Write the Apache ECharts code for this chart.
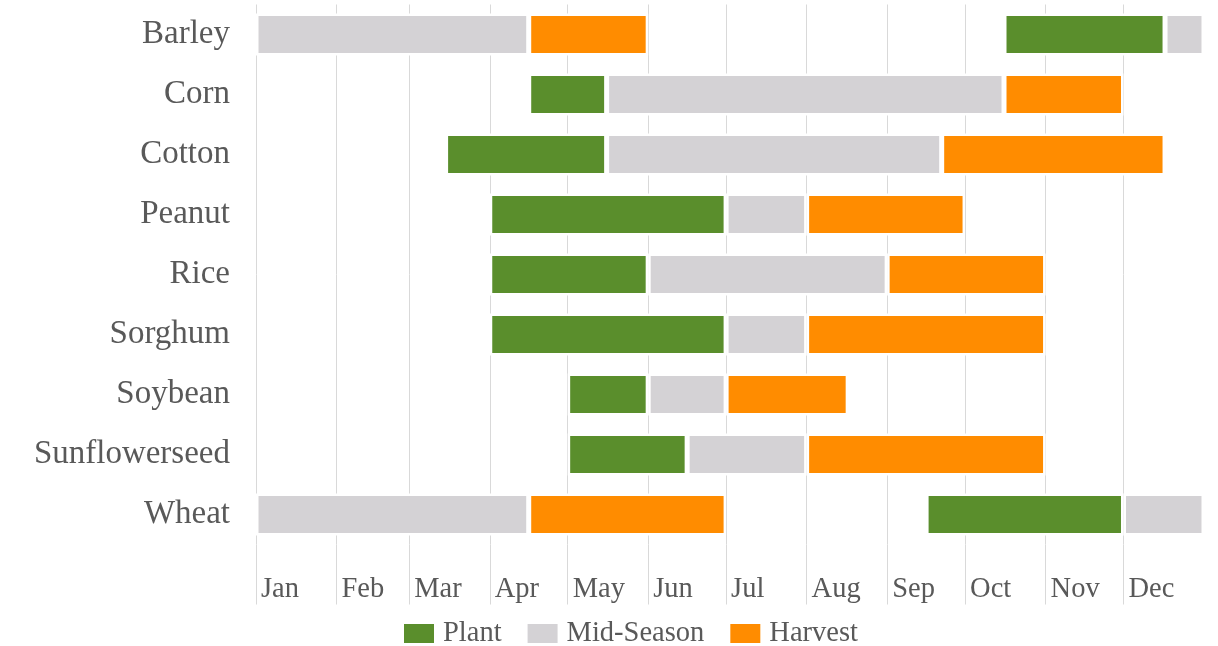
<!DOCTYPE html>
<html>
<head>
<meta charset="utf-8">
<title>Crop calendar</title>
<script src="https://cdn.jsdelivr.net/npm/echarts@6/dist/echarts.min.js"></script>
<style>
  html, body { margin: 0; padding: 0; background: #fff; }
  #chart { width: 1218px; height: 646px; }
</style>
</head>
<body>
<div id="chart"></div>
<script>
// crops, top to bottom
const crops = ['Barley', 'Corn', 'Cotton', 'Peanut', 'Rice', 'Sorghum', 'Soybean', 'Sunflowerseed', 'Wheat'];

// phase boundaries, day of the year (0 = Jan 1, 365 = end of Dec)
// winter crops (Barley, Wheat) are harvested before they are planted again,
// their mid-season runs on past the end of the year
const plantStart   = [288, 105,  73,  90,  90,  90, 120, 120, 258];
const midStart     = [350, 135, 135, 181, 151, 181, 151, 166, 334];
const harvestStart = [105, 288, 264, 212, 243, 212, 181, 212, 105];
const harvestEnd   = [151, 334, 350, 273, 304, 304, 228, 304, 181];

// month ticks
const monthNames = ['Jan', 'Feb', 'Mar', 'Apr', 'May', 'Jun', 'Jul', 'Aug', 'Sep', 'Oct', 'Nov', 'Dec'];
const monthStarts = [0, 31, 59, 90, 120, 151, 181, 212, 243, 273, 304, 334];
const yearEnd = 365;

const colors = { plant: '#5a8e2c', mid: '#d4d2d5', harvest: '#ff8c00' };
const textColor = '#595959';
const gridColor = '#d9d9d9';
const fontFamily = '"Liberation Serif", "Times New Roman", serif';

// stacked pieces for each row
const leadBlank = [], earlyMid = [], earlyHarvest = [], gapBlank = [], plantLen = [], midLen = [], harvestLen = [];
crops.forEach(function (c, i) {
  const wraps = harvestStart[i] < plantStart[i];
  if (wraps) {
    leadBlank.push('-');
    earlyMid.push(harvestStart[i]);
    earlyHarvest.push(harvestEnd[i] - harvestStart[i]);
    gapBlank.push(plantStart[i] - harvestEnd[i]);
    plantLen.push(midStart[i] - plantStart[i]);
    midLen.push(yearEnd - midStart[i]);
    harvestLen.push('-');
  } else {
    leadBlank.push(plantStart[i]);
    earlyMid.push('-');
    earlyHarvest.push('-');
    gapBlank.push('-');
    plantLen.push(midStart[i] - plantStart[i]);
    midLen.push(harvestStart[i] - midStart[i]);
    harvestLen.push(harvestEnd[i] - harvestStart[i]);
  }
});

function blank(data) {
  return {
    type: 'bar', stack: 'season', barWidth: 42, silent: true,
    itemStyle: { color: 'rgba(0,0,0,0)' },
    data: data
  };
}
function phase(name, color, data) {
  return {
    name: name, type: 'bar', stack: 'season', barWidth: 42,
    itemStyle: { color: color, borderColor: '#fff', borderWidth: 2.5 },
    data: data
  };
}

const chart = echarts.init(document.getElementById('chart'), null, { renderer: 'canvas' });
chart.setOption({
  animation: false,
  textStyle: { fontFamily: fontFamily },
  grid: { left: 256, right: 14, top: 4.5, height: 540, containLabel: false },
  legend: {
    data: ['Plant', 'Mid-Season', 'Harvest'],
    left: 397, top: 614,
    icon: 'rect', itemWidth: 32, itemHeight: 21, itemGap: 24,
    textStyle: { fontSize: 28.5, color: textColor, fontFamily: fontFamily, padding: [0, 0, 0, 3] }
  },
  xAxis: {
    type: 'value', min: 0, max: yearEnd,
    axisLine: { show: false },
    axisTick: {
      show: true, inside: false, length: 60,
      customValues: monthStarts,
      lineStyle: { color: gridColor, width: 1 }
    },
    splitLine: { show: true, lineStyle: { color: gridColor, width: 1 } },
    axisLabel: {
      customValues: monthStarts,
      formatter: function (v) { return monthNames[monthStarts.indexOf(v)]; },
      align: 'left', padding: [0, 0, 0, 5], margin: 31,
      fontSize: 28.5, color: textColor, fontFamily: fontFamily
    }
  },
  yAxis: {
    type: 'category', inverse: true, data: crops,
    axisLine: { show: false }, axisTick: { show: false },
    axisLabel: { fontSize: 33, color: textColor, margin: 26, fontFamily: fontFamily }
  },
  series: [
    blank(leadBlank),
    phase('Mid-Season', colors.mid, earlyMid),
    phase('Harvest', colors.harvest, earlyHarvest),
    blank(gapBlank),
    phase('Plant', colors.plant, plantLen),
    phase('Mid-Season', colors.mid, midLen),
    phase('Harvest', colors.harvest, harvestLen)
  ]
});
</script>
</body>
</html>
